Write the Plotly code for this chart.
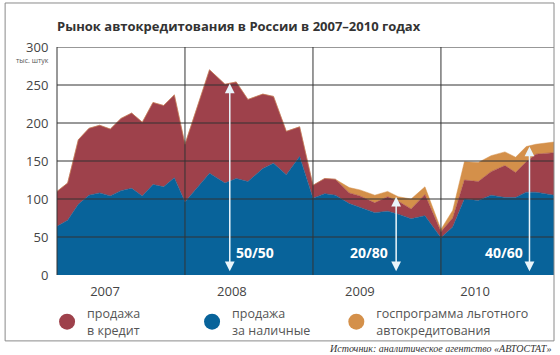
import plotly.graph_objects as go

# month index since Jan 2007 (vertex positions)
months = [0, 1, 2, 3, 4, 5, 6, 7, 8, 9, 10, 11,
          12, 14.3, 15.75, 16.8, 17.9, 19.3, 20.3, 21.5, 22.75,
          24, 25.1, 26.1, 27.4, 28.4, 29.8, 31.0, 32.0, 33.2, 34.5,
          36, 37.1, 38.2, 39.5, 40.7, 42.0, 43.0, 44.0, 44.9, 46.6]

# thousand units
cash = [64, 72, 93, 105, 108, 104, 111, 114, 104, 119, 116, 128,
        96, 134, 121, 127, 123, 140, 147, 132, 156,
        101, 107, 105, 94, 89, 82, 84, 80, 74, 78,
        49, 63, 100, 98, 105, 102, 102, 109, 109, 105]
credit = [46, 49, 85, 88, 89, 88, 95, 99, 97, 108, 107, 109,
          76, 136, 130, 127, 108, 98, 88, 57, 39,
          17, 20, 21, 14, 15, 13, 19, 17, 13, 28,
          8, 12, 25, 25, 31, 42, 33, 40, 50, 56]
gov = [0] * 12 + [0] * 9 + [0, 0, 0, 7, 8, 10, 7, 6, 13, 10] + \
      [3, 10, 24, 25, 21, 18, 20, 20, 13, 14]

year_labels = ["2007", "2008", "2009", "2010"]
year_label_pos = [4.5, 16.4, 28.4, 39.2]
year_bounds = [12, 24, 36]
y_ticks = [0, 50, 100, 150, 200, 250, 300]

share_labels = ["50/50", "20/80", "40/60"]
share_label_x = [18.6, 29.3, 41.9]
share_arrow_x = [16.2, 31.8, 44.3]
share_arrow_top = [252, 103, 169]

C_RED = "#9e414b"
C_BLUE = "#08639a"
C_ORANGE = "#d4904a"
GRID = "#333333"
FONT = "Open Sans"

fig = go.Figure()
for name, vals, col in [("cash", cash, C_BLUE), ("credit", credit, C_RED), ("gov", gov, C_ORANGE)]:
    fig.add_trace(go.Scatter(x=months, y=vals, stackgroup="s", mode="lines",
                             line=dict(width=0.5, color=col), fillcolor=col,
                             showlegend=False, hoverinfo="skip"))

for name, col, lg in [("продажа<br>в кредит", C_RED, "legend"),
                      ("продажа<br>за наличные", C_BLUE, "legend"),
                      ("госпрограмма льготного<br>автокредитования", C_ORANGE, "legend2")]:
    fig.add_trace(go.Scatter(x=[None], y=[None], mode="markers", name=name, legend=lg,
                             marker=dict(size=16, color=col, symbol="circle")))

shapes = []
for v in y_ticks[1:]:
    shapes.append(dict(type="line", xref="paper", x0=0, x1=1, yref="y", y0=v, y1=v,
                       line=dict(color=GRID, width=1), layer="above"))
for b in year_bounds:
    shapes.append(dict(type="line", xref="x", x0=b, x1=b, yref="paper", y0=0, y1=1,
                       line=dict(color=GRID, width=1), layer="above"))
shapes.append(dict(type="line", xref="paper", x0=0, x1=0, yref="paper", y0=0, y1=1,
                   line=dict(color=GRID, width=1), layer="above"))
# outer frame
shapes.append(dict(type="rect", xref="paper", x0=-0.1044, x1=1.0, yref="paper", y0=-0.289, y1=1.193,
                   line=dict(color="#8a8a8a", width=1), layer="above"))

annotations = []
for lab, lx in zip(share_labels, share_label_x):
    annotations.append(dict(x=lx, y=29, xref="x", yref="y", text=lab, showarrow=False,
                            font=dict(family=FONT, size=14, color="white", weight="bold")))
for ax_, top in zip(share_arrow_x, share_arrow_top):
    annotations.append(dict(x=ax_, y=top, xref="x", yref="y", ax=ax_, ay=3, axref="x", ayref="y",
                            text="", showarrow=True, arrowside="end+start", arrowhead=2,
                            startarrowhead=2, arrowsize=1.3, startarrowsize=1.3,
                            arrowwidth=1.5, arrowcolor="#eaf5fb"))
annotations.append(dict(x=-0.05, y=0.968, xref="paper", yref="paper", text="тыс. штук",
                        showarrow=False, font=dict(family=FONT, size=7, color="#555"),
                        xanchor="center"))
annotations.append(dict(x=1.0, y=-0.322, xref="paper", yref="paper",
                        text="<i>Источник: аналитическое агентство «АВТОСТАТ»</i>",
                        showarrow=False, xanchor="right", yanchor="middle",
                        font=dict(family="Liberation Serif", size=10, color="#333")))

legend_common = dict(orientation="h", xanchor="left", yanchor="top",
                     traceorder="normal",
                     font=dict(family=FONT, size=12.5, color="#555"),
                     itemsizing="trace", bgcolor="rgba(0,0,0,0)")

fig.update_layout(
    width=560, height=355,
    margin=dict(l=57, r=6, t=47, b=80),
    paper_bgcolor="white", plot_bgcolor="white",
    title=dict(text="<b>Рынок автокредитования в России в 2007–2010 годах</b>",
               x=57 / 560, xanchor="left", y=1 - 26 / 355, yanchor="middle",
               font=dict(family=FONT, size=13, color="#333")),
    xaxis=dict(range=[0, 46.6], tickvals=year_label_pos, ticktext=year_labels,
               showgrid=False, zeroline=False, showline=False, ticks="outside",
               ticklen=4, tickcolor="rgba(0,0,0,0)",
               tickfont=dict(family=FONT, size=13, color="#444")),
    yaxis=dict(range=[0, 300], tickvals=y_ticks, showgrid=False, zeroline=False,
               showline=False, ticks="outside", ticklen=5, tickcolor="rgba(0,0,0,0)",
               tickfont=dict(family=FONT, size=13, color="#444")),
    legend=dict(x=-0.02, y=-0.105, entrywidth=100, entrywidthmode="pixels", **legend_common),
    legend2=dict(x=0.562, y=-0.105, **legend_common),
    shapes=shapes, annotations=annotations,
)

fig.write_html("out.html", config={"displayModeBar": False},
               post_script="document.body.style.margin='0';")
